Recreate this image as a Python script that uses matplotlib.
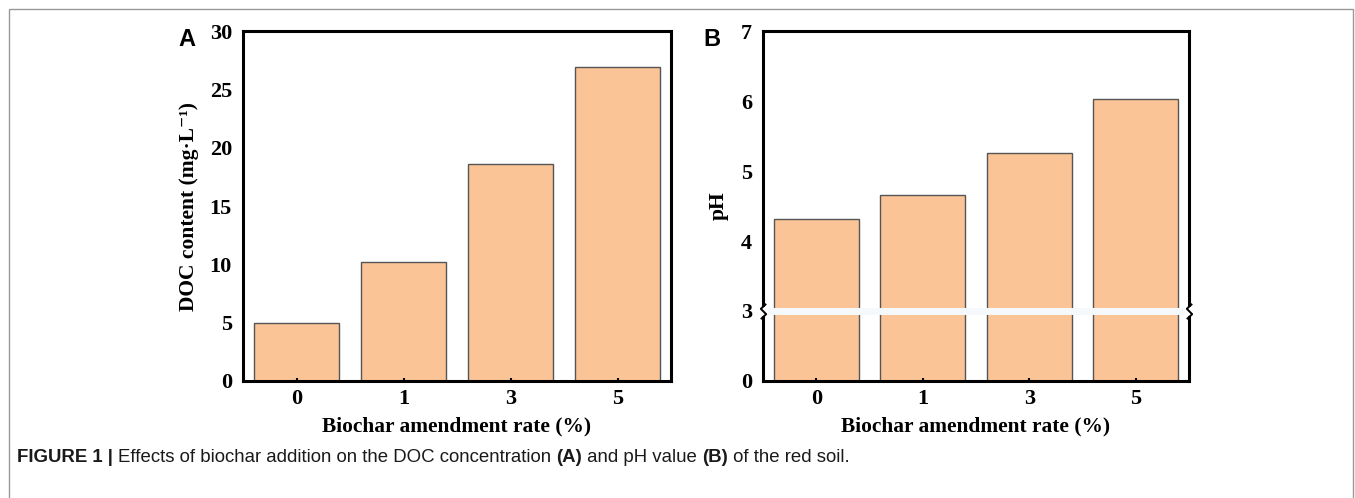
import matplotlib
matplotlib.use("Agg")
import matplotlib.pyplot as plt
import numpy as np
from matplotlib.path import Path
from matplotlib.patches import Rectangle

categories = ["0", "1", "3", "5"]
doc_values = [5.0, 10.2, 18.6, 26.9]
ph_values = [4.32, 4.65, 5.26, 6.03]
doc_ticks = [0, 5, 10, 15, 20, 25, 30]
ph_ticks = [0, 3, 4, 5, 6, 7]

W, H = 1355, 498
fig = plt.figure(figsize=(W / 100, H / 100), dpi=100)

serif = ["Liberation Serif", "DejaVu Serif"]
sans = "Liberation Sans"
bar_color = "#FAC496"
edge_color = "#555555"

def px_rect(l, r, t, b):
    return [l / W, 1 - b / H, (r - l) / W, (b - t) / H]

axA = fig.add_axes(px_rect(243, 671, 31, 381))
axB = fig.add_axes(px_rect(763, 1189, 31, 381))

x = np.arange(len(categories))

def style(ax):
    for s in ax.spines.values():
        s.set_linewidth(2.2)
        s.set_color("black")
    ax.set_xlim(-0.5, len(categories) - 0.5)
    ax.set_xticks(x)
    ax.set_xticklabels(categories, fontfamily=serif, fontweight="bold", fontsize=16)
    ax.tick_params(axis="x", direction="in", length=2, width=1.5, pad=6)
    ax.tick_params(axis="y", length=0, pad=8)
    for lab in ax.get_yticklabels():
        lab.set_fontfamily(serif)
        lab.set_fontweight("bold")
        lab.set_fontsize(16)
    ax.set_xlabel("Biochar amendment rate (%)", fontfamily=serif, fontweight="bold",
                  fontsize=15.4, labelpad=5)

# Panel A
axA.bar(x, doc_values, width=0.8, color=bar_color, edgecolor=edge_color, linewidth=1)
axA.set_ylim(0, 30)
axA.set_yticks(doc_ticks)
axA.set_yticklabels([str(t) for t in doc_ticks])
style(axA)
axA.set_ylabel("DOC content (mg·L\u207b\u00b9)", fontfamily=serif, fontweight="bold",
               fontsize=15.5, labelpad=8)

# Panel B with broken axis (0-3 compressed)
def fwd(v):
    v = np.asarray(v, dtype=float)
    return np.where(v < 3, v / 3.0, v - 2.0)

def inv(u):
    u = np.asarray(u, dtype=float)
    return np.where(u < 1, u * 3.0, u + 2.0)

axB.set_yscale("function", functions=(fwd, inv))
axB.bar(x, ph_values, width=0.8, color=bar_color, edgecolor=edge_color, linewidth=1)
axB.set_ylim(0, 7)
axB.set_yticks(ph_ticks)
axB.set_yticklabels([str(t) for t in ph_ticks])
axB.yaxis.set_minor_locator(matplotlib.ticker.NullLocator())
style(axB)
axB.set_ylabel("pH", fontfamily=serif, fontweight="bold", fontsize=15.5, labelpad=9)

# break band
axB.axhline(3, color="#F5F9FC", linewidth=5, zorder=3)
# break marks on spines
sq = Path([(-0.35, -1.0), (0.35, -0.35), (-0.35, 0.35), (0.35, 1.0)],
          [Path.MOVETO, Path.LINETO, Path.LINETO, Path.LINETO])
tr = axB.get_yaxis_transform()
axB.plot([0, 1], [3, 3], transform=tr, marker="s", ms=6, mfc="white", mec="white",
         lw=0, clip_on=False, zorder=6)
axB.plot([0, 1], [3, 3], transform=tr, marker=sq, ms=11, mfc="none", mec="black",
         mew=1.4, lw=0, clip_on=False, zorder=7)

# panel letters
fig.text(187 / W, 1 - 40 / H, "A", fontfamily=sans, fontweight="bold", fontsize=17,
         ha="center", va="center")
fig.text(712 / W, 1 - 40 / H, "B", fontfamily=sans, fontweight="bold", fontsize=17,
         ha="center", va="center")

# outer border
fig.add_artist(Rectangle((9 / W, -0.1), (1353 - 9) / W, 1.1 - 9 / H,
                         transform=fig.transFigure, fill=False, edgecolor="#999999",
                         linewidth=1))

# caption
pieces = [("FIGURE 1 | ", "bold"), ("Effects of biochar addition on the DOC concentration ", "normal"),
          ("(A)", "bold"), (" and pH value ", "normal"), ("(B)", "bold"),
          (" of the red soil.", "normal")]
fig.canvas.draw()
renderer = fig.canvas.get_renderer()
cx = 17
for txt, wt in pieces:
    t = fig.text(cx / W, 1 - 457 / H, txt, fontfamily=sans, fontweight=wt, fontsize=13.4,
                 ha="left", va="center", color="#1a1a1a")
    bb = t.get_window_extent(renderer=renderer)
    cx += bb.width

fig.savefig("out.png", dpi=100)
